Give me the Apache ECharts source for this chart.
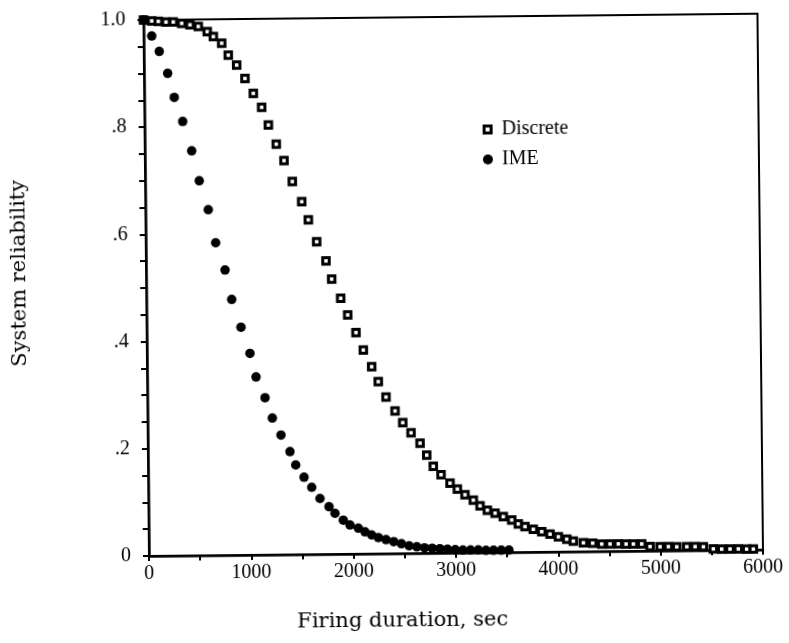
<!DOCTYPE html>
<html>
<head>
<meta charset="utf-8">
<title>System reliability vs firing duration</title>
<script src="https://cdn.jsdelivr.net/npm/echarts@6/dist/echarts.min.js"></script>
<style>
  html, body { margin: 0; padding: 0; background: #fff; }
  #chart {
    width: 789px; height: 643px;
    /* the printed page sits slightly tilted */
    transform: rotate(-0.59deg);
    transform-origin: 149px 556px;
  }
</style>
</head>
<body>
<div id="chart"></div>
<script>
// Discrete model: firing duration (sec) and system reliability
const discreteTime = [0, 80, 145, 220, 291, 373, 454, 535, 622, 681,
  762, 825, 906, 986, 1066, 1146, 1210, 1285, 1359, 1438,
  1528, 1591, 1670, 1759, 1813, 1899, 1966, 2045, 2115, 2195,
  2258, 2332, 2419, 2493, 2573, 2660, 2724, 2787, 2862, 2949,
  3020, 3094, 3175, 3240, 3311, 3386, 3466, 3548, 3612, 3677,
  3758, 3840, 3921, 4002, 4084, 4148, 4246, 4337, 4425, 4506,
  4587, 4663, 4734, 4816, 4897, 4995, 5076, 5158, 5256, 5337,
  5418, 5515, 5597, 5678, 5759, 5841, 5906];
const discreteReliability = [1.0, 0.998, 0.997, 0.996, 0.996, 0.993, 0.990, 0.987, 0.977, 0.968,
  0.955, 0.933, 0.914, 0.889, 0.861, 0.835, 0.802, 0.766, 0.735, 0.696,
  0.658, 0.624, 0.583, 0.547, 0.513, 0.477, 0.446, 0.413, 0.380, 0.349,
  0.321, 0.292, 0.266, 0.244, 0.225, 0.205, 0.183, 0.162, 0.146, 0.130,
  0.119, 0.108, 0.098, 0.087, 0.079, 0.073, 0.0665, 0.060, 0.0526, 0.0474,
  0.0424, 0.0378, 0.0333, 0.0281, 0.0231, 0.0198, 0.0165, 0.0152, 0.0137, 0.0135,
  0.0133, 0.0132, 0.0131, 0.0129, 0.0077, 0.0075, 0.0073, 0.0072, 0.0070, 0.0069,
  0.0067, 0.0022, 0.0020, 0.0019, 0.0017, 0.0016, 0.0015];

// IME model
const imeTime = [0, 79, 151, 231, 293, 373, 458, 529, 614, 683,
  772, 834, 922, 1007, 1064, 1150, 1219, 1302, 1388, 1443,
  1523, 1597, 1677, 1764, 1822, 1902, 1967, 2048, 2113, 2178,
  2243, 2318, 2393, 2468, 2543, 2618, 2693, 2768, 2843, 2918,
  2993, 3068, 3143, 3218, 3293, 3368, 3443, 3518];
const imeReliability = [1.0, 0.970, 0.941, 0.900, 0.855, 0.810, 0.755, 0.699, 0.645, 0.583,
  0.532, 0.477, 0.425, 0.376, 0.332, 0.293, 0.255, 0.223, 0.192, 0.167,
  0.144, 0.125, 0.104, 0.0885, 0.076, 0.063, 0.054, 0.048, 0.041, 0.035,
  0.030, 0.026, 0.022, 0.018, 0.014, 0.012, 0.010, 0.009, 0.008, 0.007,
  0.006, 0.005, 0.005, 0.005, 0.004, 0.004, 0.004, 0.004];

// Labelled ticks
const xTickLabels = ['0', '1000', '2000', '3000', '4000', '5000', '6000'];
const yTickLabels = ['0', '.2', '.4', '.6', '.8', '1.0'];

const seriesNames = ['Discrete', 'IME'];
const xTitle = 'Firing duration, sec';
const yTitle = 'System reliability';

const pair = (xs, ys) => xs.map((x, i) => [x, ys[i]]);

const serif = '"Liberation Serif", "Times New Roman", serif';
const wideSerif = '"DejaVu Serif", "Liberation Serif", serif';

const chart = echarts.init(document.getElementById('chart'), null, { renderer: 'canvas' });

chart.setOption({
  animation: false,
  backgroundColor: '#fff',
  grid: {
    left: 149, top: 20, width: 614, height: 536,
    show: true, borderColor: '#000', borderWidth: 2, backgroundColor: 'transparent'
  },
  xAxis: {
    type: 'value', min: 0, max: 6000, interval: 500,
    axisLine: { show: true, onZero: false, lineStyle: { color: '#000', width: 2.5 } },
    axisTick: { show: true, length: 5, lineStyle: { color: '#000', width: 2 } },
    splitLine: { show: false },
    axisLabel: {
      color: '#000', fontFamily: serif, fontSize: 20, margin: 8,
      formatter: v => (v % 1000 === 0 ? xTickLabels[v / 1000] : '')
    }
  },
  yAxis: {
    type: 'value', min: 0, max: 1, interval: 0.05,
    axisLine: { show: true, onZero: false, lineStyle: { color: '#000', width: 2.5 } },
    axisTick: { show: true, length: 6, lineStyle: { color: '#000', width: 2 } },
    splitLine: { show: false },
    axisLabel: {
      color: '#000', fontFamily: serif, fontSize: 20, margin: 18,
      formatter: v => {
        const n = Math.round(v * 100);
        return n % 20 === 0 ? yTickLabels[n / 20] : '';
      }
    }
  },
  legend: {
    orient: 'vertical', left: 482, top: 118,
    itemWidth: 10, itemHeight: 10, itemGap: 10,
    textStyle: { color: '#000', fontFamily: serif, fontSize: 20, padding: [0, 0, 0, 4] },
    data: [
      { name: seriesNames[0], icon: 'path://M0,0H10V10H0Z M3,3V7H7V3Z',
        itemStyle: { color: '#000', borderWidth: 0 } },
      { name: seriesNames[1], icon: 'circle', itemStyle: { color: '#000', borderWidth: 0 } }
    ]
  },
  graphic: [
    {
      type: 'text', x: 23, y: 272, rotation: Math.PI / 2,
      style: { text: yTitle, font: '21px ' + wideSerif, fill: '#000',
               textAlign: 'center', textVerticalAlign: 'middle' }
    },
    {
      type: 'text', x: 402, y: 624,
      style: { text: xTitle, font: '21px ' + wideSerif, fill: '#000',
               textAlign: 'center', textVerticalAlign: 'middle' }
    }
  ],
  series: [
    {
      name: seriesNames[0], type: 'scatter',
      symbol: 'rect', symbolSize: 6.5,
      itemStyle: { color: '#fff', borderColor: '#000', borderWidth: 3, opacity: 1 },
      data: pair(discreteTime, discreteReliability),
      z: 2
    },
    {
      name: seriesNames[1], type: 'scatter',
      symbol: 'circle', symbolSize: 9.5,
      itemStyle: { color: '#000', opacity: 1 },
      data: pair(imeTime, imeReliability),
      z: 3
    }
  ]
});
</script>
</body>
</html>
